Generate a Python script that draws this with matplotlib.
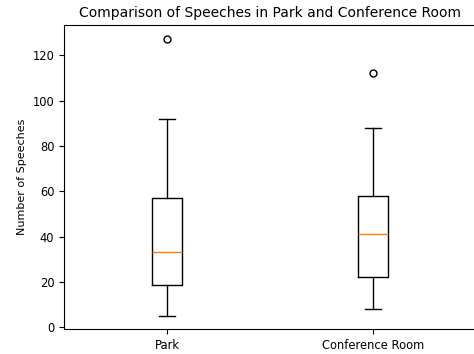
import matplotlib
matplotlib.use("Agg")
from matplotlib import pyplot as plt

labels = ['Park', 'Conference Room']
whislo = [5, 8]
q1 = [18.5, 22]
med = [33, 41]
q3 = [57, 58]
whishi = [92, 88]
fliers = [[127], [112]]

stats = []
for i in range(len(labels)):
    stats.append({'label': labels[i], 'whislo': whislo[i], 'q1': q1[i],
                  'med': med[i], 'q3': q3[i], 'whishi': whishi[i],
                  'fliers': fliers[i]})

fig = plt.figure(figsize=(4.74, 3.54), dpi=100)
ax = fig.add_axes([64 / 474, 25 / 354, 412 / 474, 304 / 354])
ax.bxp(stats, widths=0.15, flierprops={'marker': 'o', 'markersize': 5})
ax.set_xlim(0.5, 2.5)
ax.set_ylim(-0.8, 133.4)
ax.set_title('Comparison of Speeches in Park and Conference Room', fontsize=10)
ax.set_ylabel('Number of Speeches', fontsize=8)
ax.tick_params(labelsize=8.3)

plt.savefig('out.png', dpi=100)
